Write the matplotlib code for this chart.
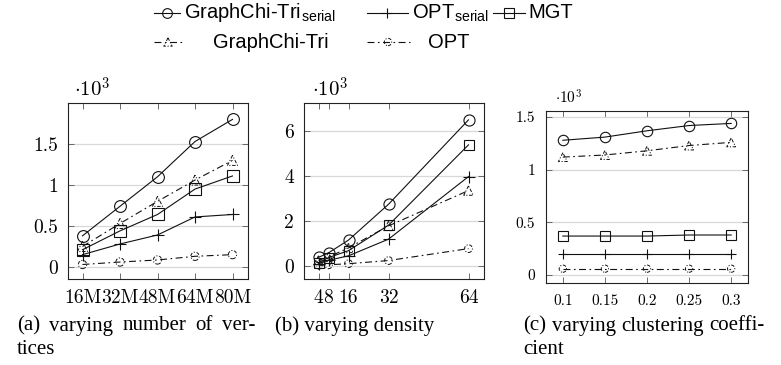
import matplotlib
matplotlib.use('Agg')
import matplotlib.pyplot as plt

plt.rcParams['mathtext.fontset'] = 'cm'
plt.rcParams['lines.scale_dashes'] = False

# ---------------- data (values in units of 10^3) ----------------
vert_x = [16, 32, 48, 64, 80]
vert_labels = ['16M', '32M', '48M', '64M', '80M']
vert_gct_serial = [0.38, 0.74, 1.10, 1.53, 1.80]
vert_opt_serial = [0.15, 0.28, 0.39, 0.61, 0.64]
vert_mgt = [0.21, 0.44, 0.64, 0.95, 1.11]
vert_gct = [0.25, 0.53, 0.80, 1.06, 1.30]
vert_opt = [0.03, 0.06, 0.085, 0.13, 0.15]

dens_x = [4, 8, 16, 32, 64]
dens_labels = ['4', '8', '16', '32', '64']
dens_gct_serial = [0.38, 0.58, 1.15, 2.74, 6.49]
dens_opt_serial = [0.10, 0.25, 0.45, 1.19, 3.97]
dens_mgt = [0.15, 0.37, 0.68, 1.81, 5.38]
dens_gct = [0.25, 0.40, 0.80, 1.78, 3.35]
dens_opt = [0.03, 0.05, 0.10, 0.24, 0.77]

clus_x = [0.1, 0.15, 0.2, 0.25, 0.3]
clus_labels = ['0.1', '0.15', '0.2', '0.25', '0.3']
clus_gct_serial = [1.28, 1.31, 1.37, 1.42, 1.44]
clus_opt_serial = [0.20, 0.20, 0.20, 0.20, 0.20]
clus_mgt = [0.37, 0.37, 0.37, 0.38, 0.38]
clus_gct = [1.12, 1.14, 1.18, 1.23, 1.26]
clus_opt = [0.06, 0.06, 0.06, 0.06, 0.06]

series_names = ['GraphChi-Tri$_{\\mathregular{serial}}$', 'OPT$_{\\mathregular{serial}}$', 'MGT',
                'GraphChi-Tri', 'OPT']
captions_a = ['(a)', 'varying', 'number', 'of', 'ver-']
caption_a2 = 'tices'
caption_b = '(b) varying density'
captions_c = ['(c)', 'varying', 'clustering', 'coeffi-']
caption_c2 = 'cient'

# ---------------- figure ----------------
W, H = 781, 365
fig = plt.figure(figsize=(W / 100, H / 100), dpi=100)


def fx(px):
    return px / W


def fy(py):
    return 1 - py / H


def box(l, t, r, b):
    return [fx(l), fy(b), (r - l) / W, (b - t) / H]


DD_LINE = (0, (5, 2.5, 1.2, 2.5))
DD_MARK = (0, (2.5, 1.2, 0.8, 1.2))
LW = 0.8
K = '#111111'


def draw(ax, x, gs, os_, mg, gc, op, ms):
    ax.plot(x, gs, '-', color=K, lw=LW, marker='o', mfc='none', mec=K, ms=ms, mew=0.8, zorder=3)
    ax.plot(x, os_, '-', color=K, lw=LW, marker='+', ms=ms, mew=0.8, zorder=3)
    ax.plot(x, mg, '-', color=K, lw=LW, marker='s', mfc='none', mec=K, ms=ms * 0.95, mew=0.8, zorder=3)
    ax.plot(x, gc, color=K, lw=LW, ls=DD_LINE, zorder=3)
    ax.scatter(x, gc, marker='^', s=(ms * 0.85) ** 2, facecolors='none', edgecolors=K,
               linewidths=0.7, linestyles=DD_MARK, zorder=4)
    ax.plot(x, op, color=K, lw=LW, ls=DD_LINE, zorder=3)
    ax.scatter(x, op, marker='o', s=(ms * 0.7) ** 2, facecolors='none', edgecolors=K,
               linewidths=0.7, linestyles=DD_MARK, zorder=4)


def style(ax, xt, xl, yt, yl, fs, xpad, ypad):
    ax.set_xticks(xt)
    ax.set_xticklabels(xl, fontfamily='cmr10', fontsize=fs)
    ax.set_yticks(yt)
    ax.set_yticklabels(yl, fontfamily='cmr10', fontsize=fs)
    ax.tick_params(axis='both', direction='in', top=True, right=True, length=4,
                   width=0.6, color='#555555')
    ax.tick_params(axis='x', pad=xpad)
    ax.tick_params(axis='y', pad=ypad)
    ax.yaxis.grid(True, color='#d8d8d8', lw=0.9)
    ax.set_axisbelow(True)
    for s in ax.spines.values():
        s.set_linewidth(0.8)
        s.set_color('#222222')


ax1 = fig.add_axes(box(67.5, 103, 247.5, 279))
draw(ax1, vert_x, vert_gct_serial, vert_opt_serial, vert_mgt, vert_gct, vert_opt, 8.5)
ax1.set_xlim(9.6, 86.4)
ax1.set_ylim(-0.147, 2.0)
style(ax1, vert_x, vert_labels, [0, 0.5, 1, 1.5], ['0', '0.5', '1', '1.5'], 14, 7, 7)

ax2 = fig.add_axes(box(303.5, 103, 483.5, 279))
draw(ax2, dens_x, dens_gct_serial, dens_opt_serial, dens_mgt, dens_gct, dens_opt, 8)
ax2.set_xlim(-2, 70)
ax2.set_ylim(-0.58, 7.24)
style(ax2, dens_x, dens_labels, [0, 2, 4, 6], ['0', '2', '4', '6'], 14, 7, 7)

ax3 = fig.add_axes(box(546, 111, 748, 283))
draw(ax3, clus_x, clus_gct_serial, clus_opt_serial, clus_mgt, clus_gct, clus_opt, 7.5)
ax3.set_xlim(0.08, 0.32)
ax3.set_ylim(-0.076, 1.558)
style(ax3, clus_x, clus_labels, [0, 0.5, 1, 1.5], ['0', '0.5', '1', '1.5'], 11, 8, 8)

# scale labels
fig.text(fx(92), fy(89), r'$\cdot 10^{3}$', fontsize=15, ha='center', va='center')
fig.text(fx(330), fy(89), r'$\cdot 10^{3}$', fontsize=15, ha='center', va='center')
fig.text(fx(569), fy(98), r'$\cdot 10^{3}$', fontsize=11, ha='center', va='center')

# ---------------- legend (drawn in pixel space) ----------------
lg = fig.add_axes([0, 0, 1, 1], facecolor='none')
lg.set_xlim(0, W)
lg.set_ylim(H, 0)
lg.axis('off')

LFS = 14.5
LF = 'Liberation Sans'
r1, r2 = 13, 42
# col 1 row 1: circle solid
lg.plot([154, 180], [r1, r1], '-', color=K, lw=LW)
lg.plot([167], [r1], marker='o', mfc='none', mec=K, ms=7, mew=0.8)
lg.text(184, r1, series_names[0], fontsize=LFS, family=LF, va='center', ha='left')
# col 1 row 2: dashdot triangle
lg.plot([154, 182], [r2, r2], color=K, lw=LW, ls=DD_LINE)
lg.scatter([168], [r2], marker='^', s=36, facecolors='none', edgecolors=K, linewidths=0.7,
           linestyles=DD_MARK)
lg.text(213, r2, series_names[3], fontsize=LFS, family=LF, va='center', ha='left')
# col 2 row 1: plus solid
lg.plot([367, 408], [r1, r1], '-', color=K, lw=LW)
lg.plot([387], [r1], marker='+', ms=7, mew=0.8, color=K)
lg.text(412, r1, series_names[1], fontsize=LFS, family=LF, va='center', ha='left')
# col 2 row 2: dashdot circle
lg.plot([367, 410], [r2, r2], color=K, lw=LW, ls=DD_LINE)
lg.scatter([388], [r2], marker='o', s=28, facecolors='none', edgecolors=K, linewidths=0.7,
           linestyles=DD_MARK)
lg.text(428, r2, series_names[4], fontsize=LFS, family=LF, va='center', ha='left')
# col 3 row 1: square solid
lg.plot([493, 525], [r1, r1], '-', color=K, lw=LW)
lg.plot([509], [r1], marker='s', mfc='none', mec=K, ms=6.5, mew=0.8)
lg.text(528, r1, series_names[2], fontsize=LFS, family=LF, va='center', ha='left')

# ---------------- captions ----------------
CFS = 15
CF = 'Liberation Serif'


def justified(words, x0, x1, y):
    texts = [fig.text(0, fy(y), w, fontsize=CFS, family=CF, va='center', ha='left') for w in words]
    fig.canvas.draw()
    r = fig.canvas.get_renderer()
    widths = [t.get_window_extent(r).width for t in texts]
    gap = ((x1 - x0) - sum(widths)) / (len(words) - 1)
    x = x0
    for t, w in zip(texts, widths):
        t.set_x(fx(x))
        x += w + gap


justified(captions_a, 17, 255, 326)
fig.text(fx(17), fy(350), caption_a2, fontsize=CFS, family=CF, va='center', ha='left')
fig.text(fx(275), fy(326), caption_b, fontsize=CFS, family=CF, va='center', ha='left')
justified(captions_c, 523, 765, 326)
fig.text(fx(523), fy(350), caption_c2, fontsize=CFS, family=CF, va='center', ha='left')

fig.savefig('out.png', dpi=100)
